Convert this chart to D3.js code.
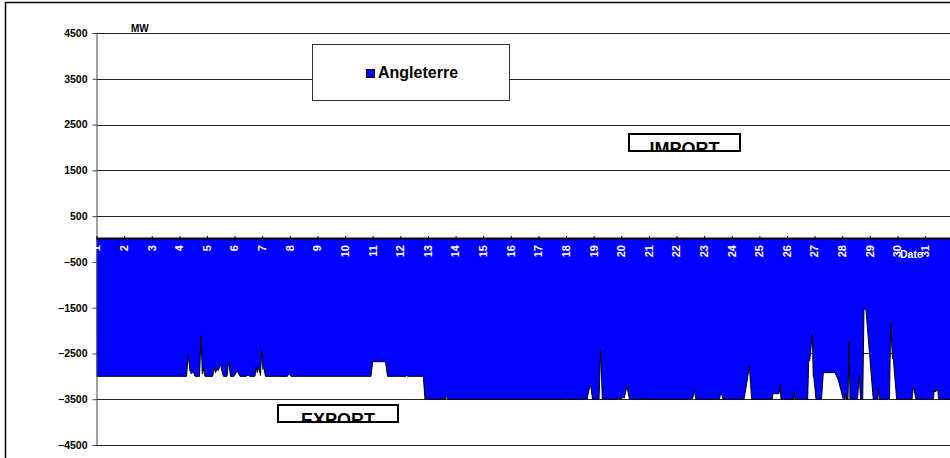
<!DOCTYPE html>
<html>
<head>
<meta charset="utf-8">
<script src="https://cdn.jsdelivr.net/npm/d3@7"></script>
<style>
  html, body { margin: 0; padding: 0; background: #fff; }
  svg { display: block; font-family: "Liberation Sans", Arial, sans-serif; }
</style>
</head>
<body>
<svg id="chart" width="950" height="458"></svg>
<script>
// ---- data ----
const seriesName = "Angleterre";
const days = d3.range(1, 32); // category labels 1..31
const yTickValues = [4500, 3500, 2500, 1500, 500, -500, -1500, -2500, -3500, -4500];
// time position in days (1 = start of day 1) and exchange value in MW
const dayPos = [
  1.00, 4.258, 4.324, 4.385, 4.44, 4.494, 4.566, 4.729, 4.784, 4.83, 4.867, 4.928,
  5.207, 5.254, 5.308, 5.352, 5.41, 5.497, 5.555, 5.598, 5.725, 5.786, 5.852,
  5.978, 6.098, 6.195, 6.413, 6.485, 6.558, 6.739, 6.775, 6.822, 6.858, 6.938, 6.981,
  7.028, 7.064, 7.119, 7.915, 7.944, 8.006, 8.042, 10.938, 11.0, 11.463, 11.536,
  12.206, 12.231, 12.26, 12.832, 12.894, 12.93, 12.966, 13.636, 13.68, 13.727,
  17.999, 18.024, 18.053, 18.759, 18.83, 18.893, 18.958, 19.194, 19.255, 19.313,
  19.863, 19.892, 19.928, 20.008, 20.052, 20.1, 20.207, 20.298, 20.75, 20.776, 20.812,
  20.895, 20.92, 20.956, 22.578, 22.643, 22.705, 23.556, 23.592, 23.646, 23.682,
  24.443, 24.541, 24.635, 24.722, 25.468, 25.483, 25.711, 25.747, 25.783,
  26.229, 26.254, 26.29, 26.749, 26.785, 26.821, 26.915, 26.951, 26.977, 27.05,
  27.249, 27.314, 27.738, 27.857, 28.039, 28.1, 28.126, 28.162, 28.209, 28.245, 28.281,
  28.553, 28.618, 28.662, 28.741, 28.788, 28.86, 29.123, 29.279, 29.304, 29.34,
  29.71, 29.755, 29.82, 29.85, 29.97, 30.526, 30.573, 30.671,
  31.304, 31.322, 31.394, 31.456, 31.485, 32.0
];
const mwValues = [
  -3000, -3000, -2534, -2880, -2950, -2880, -3000, -3000, -2112, -2950, -2825, -3000,
  -3000, -2800, -2920, -2850, -2870, -2737, -2920, -3000, -3000, -2665, -3000,
  -3000, -2880, -3000, -3000, -2975, -3000, -3000, -2790, -2920, -2790, -2980, -2425,
  -2850, -2825, -3000, -3000, -2960, -2960, -3000, -3000, -2680, -2680, -3000,
  -3000, -2960, -3000, -3000, -3500, -3460, -3500, -3500, -3430, -3500,
  -3500, -3480, -3500, -3500, -3300, -3190, -3500, -3500, -2410, -3500,
  -3500, -3460, -3500, -3500, -3430, -3480, -3225, -3500, -3500, -3470, -3500,
  -3500, -3470, -3500, -3500, -3320, -3500, -3500, -3380, -3420, -3500,
  -3500, -3150, -2775, -3500, -3500, -3380, -3380, -3170, -3500,
  -3500, -3330, -3500, -3500, -2645, -2660, -2075, -3000, -3045, -3500,
  -3500, -2920, -2920, -3080, -3500, -3500, -3380, -3500, -3500, -2243, -3500,
  -3500, -2970, -3500, -3500, -1514, -1550, -3500, -3500, -3260, -3500,
  -3500, -1828, -2620, -2620, -3500, -3500, -3225, -3500,
  -3500, -3330, -3330, -3260, -3500, -3500
];
const data = dayPos.map((t, i) => ({ t, v: mwValues[i] }));

// ---- layout ----
const svg = d3.select("#chart");
const plot = { left: 96.5, top: 33, bottom: 445 };
const x = d3.scaleLinear().domain([1, 32]).range([plot.left, plot.left + 31 * 27.62]);
const y = d3.scaleLinear().domain([-4500, 4500]).range([plot.bottom, plot.top]);
const font = '"Liberation Sans", Arial, sans-serif';

svg.append("rect").attr("width", 950).attr("height", 458).attr("fill", "#fff");

// gridlines
svg.append("g").selectAll("line").data(yTickValues).join("line")
  .attr("x1", plot.left).attr("x2", 950)
  .attr("y1", d => Math.round(y(d)) + 0.5).attr("y2", d => Math.round(y(d)) + 0.5)
  .attr("stroke", "#222").attr("stroke-width", 1);

// area
const area = d3.area().x(d => x(d.t)).y0(y(0)).y1(d => y(d.v));
svg.append("path").datum(data).attr("d", area).attr("fill", "#0000FF");
const line = d3.line().x(d => x(d.t)).y(d => y(d.v));
svg.append("path").datum(data).attr("d", line).attr("fill", "none")
  .attr("stroke", "#000").attr("stroke-width", 1);

// y axis
const yAxis = d3.axisLeft(y).tickValues(yTickValues).tickSize(4).tickPadding(5)
  .tickFormat(d3.format("d"));
const gy = svg.append("g").attr("transform", `translate(${plot.left},0)`).call(yAxis);
gy.select(".domain").attr("stroke", "#444");
gy.selectAll(".tick line").attr("stroke", "#444");
gy.selectAll("text").attr("font-family", font).attr("font-size", 10.5)
  .attr("font-weight", "bold").attr("fill", "#000");

// x axis at 0
const xAxis = d3.axisTop(x).tickValues(days).tickSize(3).tickFormat("");
const gx = svg.append("g").attr("transform", `translate(0,${y(0)})`).call(xAxis);
gx.select(".domain").remove();
gx.selectAll(".tick line").attr("stroke", "#000").attr("y2", -3).attr("y1", 1);
svg.append("line").attr("x1", plot.left).attr("x2", 950)
  .attr("y1", y(0) - 0.5).attr("y2", y(0) - 0.5).attr("stroke", "#000").attr("stroke-width", 2);

svg.append("g").selectAll("text").data(days).join("text")
  .attr("transform", d => `translate(${x(d)},245) rotate(-90)`)
  .attr("text-anchor", "end").attr("dy", "0.35em")
  .attr("font-family", font).attr("font-size", 11).attr("font-weight", "bold")
  .attr("fill", "#fff").text(d => d);

svg.append("text").attr("x", 900).attr("y", 258).attr("font-family", font)
  .attr("font-size", 10.5).attr("font-weight", "bold").attr("fill", "#fff").text("Date");

svg.append("text").attr("x", 131).attr("y", 32).attr("font-family", font)
  .attr("font-size", 10).attr("font-weight", "bold").attr("fill", "#000").text("MW");

// legend
const lg = svg.append("g");
lg.append("rect").attr("x", 312.5).attr("y", 44.5).attr("width", 197).attr("height", 56)
  .attr("fill", "#fff").attr("stroke", "#333").attr("stroke-width", 1);
lg.append("rect").attr("x", 366.5).attr("y", 69.5).attr("width", 8).attr("height", 8)
  .attr("fill", "#0000FF").attr("stroke", "#000").attr("stroke-width", 1);
lg.append("text").attr("x", 378).attr("y", 77.5).attr("font-family", font)
  .attr("font-size", 16).attr("font-weight", "bold").attr("fill", "#000").text(seriesName);

// IMPORT / EXPORT boxes (text clipped by box)
function labelBox(id, bx, by, bw, bh, label) {
  const defs = svg.append("defs");
  defs.append("clipPath").attr("id", id).append("rect")
    .attr("x", bx).attr("y", by).attr("width", bw).attr("height", bh);
  svg.append("rect").attr("x", bx).attr("y", by).attr("width", bw).attr("height", bh)
    .attr("fill", "#fff");
  svg.append("text").attr("clip-path", `url(#${id})`)
    .attr("x", bx + bw / 2).attr("y", by + 21).attr("text-anchor", "middle")
    .attr("font-family", font).attr("font-size", 18).attr("font-weight", "bold")
    .attr("fill", "#000").text(label);
  svg.append("rect").attr("x", bx).attr("y", by).attr("width", bw).attr("height", bh)
    .attr("fill", "none").attr("stroke", "#000").attr("stroke-width", 2);
}
labelBox("clipImport", 629, 134, 111, 17, "IMPORT");
labelBox("clipExport", 278, 405, 120, 17, "EXPORT");

// outer frame
svg.append("rect").attr("x", 5.5).attr("y", 2.5).attr("width", 960).attr("height", 470)
  .attr("fill", "none").attr("stroke", "#000").attr("stroke-width", 1.5);
</script>
</body>
</html>
